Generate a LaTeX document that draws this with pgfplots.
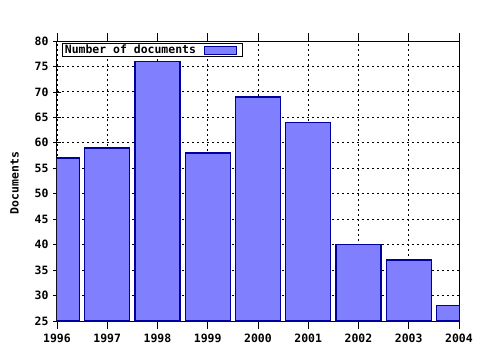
\documentclass[border=0pt]{standalone}
\usepackage{pgfplots}
\pgfplotsset{compat=1.18}
\usepackage{fontspec}
\setmainfont{DejaVu Sans Mono}[BoldFont={DejaVu Sans Mono Bold}]
\definecolor{barfill}{RGB}{128,128,255}
\definecolor{baredge}{RGB}{0,0,160}
\begin{document}
\begin{tikzpicture}[x=1bp,y=1bp]
\begin{axis}[
  at={(0,0)}, anchor=south west,
  scale only axis, width=402bp, height=280bp,
  xmin=1996, xmax=2004, ymin=25, ymax=80,
  xtick={1996,...,2004}, ytick={25,30,...,80},
  minor x tick num=3,
  ytick pos=left,
  tick align=center,
  major tick length=8bp, minor tick length=5bp,
  every tick/.style={black, line width=0.8bp},
  axis line style={line width=1bp},
  grid=major,
  major grid style={black, line width=0.9bp, dash pattern=on 2bp off 3bp},
  /pgf/number format/1000 sep={},
  /pgf/number format/assume math mode=true,
  typeset ticklabels with strut,
  ticklabel style={font=\fontsize{11.5}{13}\selectfont\bfseries},
  xticklabel style={anchor=north, yshift=-1bp},
  yticklabel style={xshift=-1bp, yshift=-1.5bp},
  ylabel={Documents},
  ylabel style={font=\fontsize{11.5}{13}\selectfont\bfseries, xshift=-2bp, yshift=9bp},
  legend cell align=left,
  legend plot pos=right,
  legend style={at={(5/402,1-2/280)}, anchor=north west, draw=black, line width=0.8bp,
    font=\fontsize{11.5}{13}\selectfont\bfseries, inner xsep=1bp, inner ysep=0bp,
    nodes={inner sep=1.5bp}},
  ybar, bar width=45bp,
]
\addplot[fill=barfill, draw=baredge, line width=1.3bp,
  legend image code/.code={\path (0bp,0bp); \draw[fill=barfill, draw=baredge, line width=1bp] (6bp,-4bp) rectangle (38bp,4bp); \path (43bp,0bp);}] coordinates {
 (1996,57) (1997,59) (1998,76) (1999,58) (2000,69) (2001,64) (2002,40) (2003,37) (2004,28)
};
\addlegendentry{Number of documents}
\end{axis}
\pgfresetboundingbox
\path[use as bounding box] (-57bp,-29bp) rectangle (423bp,321bp);
\end{tikzpicture}
\end{document}
